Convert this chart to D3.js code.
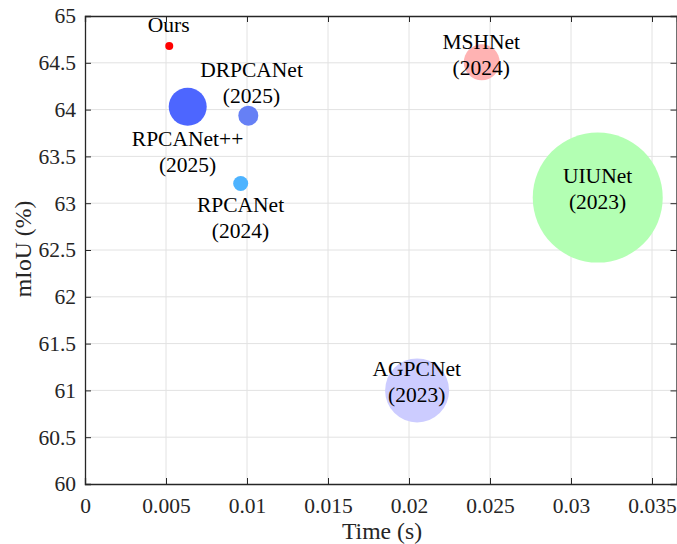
<!DOCTYPE html>
<html>
<head>
<meta charset="utf-8">
<script src="https://cdn.jsdelivr.net/npm/d3@7"></script>
<style>
  html, body { margin: 0; padding: 0; background: #fff; }
  svg { display: block; }
  text { font-family: "Liberation Serif", "Times New Roman", serif; }
</style>
</head>
<body>
<svg id="chart" width="677" height="544"></svg>
<script>
// Methods: inference time (s) vs mIoU (%), bubble radius in px
const names  = ["Ours", "RPCANet++", "DRPCANet", "RPCANet", "MSHNet", "UIUNet", "AGPCNet"];
const years  = ["", "(2025)", "(2025)", "(2024)", "(2024)", "(2023)", "(2023)"];
const times  = [0.0052, 0.00634, 0.01008, 0.00961, 0.02449, 0.03165, 0.0205];
const mious  = [64.68, 64.03, 63.935, 63.21, 64.505, 63.06, 61.0];
const sizes  = [4, 19, 10, 7.5, 18, 65, 32];
const colors = ["#ff0000", "#4d66ff", "#6680f5", "#4db3ff", "#ffb3b3", "#b3ffb3", "#ccccff"];
// label anchors (data units): centre time, first-line baseline mIoU
const labelX = [0.00517, 0.00633, 0.01028, 0.0096, 0.02446, 0.03164, 0.02048];
const labelY = [64.829, 63.611, 64.348, 62.906, 64.647, 63.216, 61.154];

const xTicks = [0, 0.005, 0.01, 0.015, 0.02, 0.025, 0.03, 0.035];
const yTicks = [60, 60.5, 61, 61.5, 62, 62.5, 63, 63.5, 64, 64.5, 65];

const W = 677, H = 544;
const svg = d3.select("#chart");

const x = d3.scaleLinear().domain([0, 0.036543]).range([85, W]);
const y = d3.scaleLinear().domain([60, 65]).range([484, 16]);

const FONT = "'Liberation Serif', 'Times New Roman', serif";

// grid
const grid = svg.append("g");
grid.selectAll(".gx").data(xTicks.slice(1)).join("line")
  .attr("x1", d => x(d)).attr("x2", d => x(d))
  .attr("y1", y(60)).attr("y2", y(65))
  .attr("stroke", "#e2e2e2").attr("stroke-width", 1);
grid.selectAll(".gy").data(yTicks.slice(1, -1)).join("line")
  .attr("x1", x(0)).attr("x2", W)
  .attr("y1", d => y(d)).attr("y2", d => y(d))
  .attr("stroke", "#e2e2e2").attr("stroke-width", 1);

// bubbles
svg.append("g").selectAll("circle").data(names).join("circle")
  .attr("cx", (d, i) => x(times[i]))
  .attr("cy", (d, i) => y(mious[i]))
  .attr("r", (d, i) => sizes[i])
  .attr("fill", (d, i) => colors[i]);

// box with axes
const fmt = d => d === 0 ? "0" : String(+d.toFixed(3));
const xAxis = d3.axisBottom(x).tickValues(xTicks).tickSize(-6).tickPadding(14).tickFormat(fmt);
const yAxis = d3.axisLeft(y).tickValues(yTicks).tickSize(-6).tickPadding(9).tickFormat(d => String(d));
const xTop = d3.axisTop(x).tickValues(xTicks).tickSize(-6).tickFormat("");
const yRight = d3.axisRight(y).tickValues(yTicks).tickSize(-6).tickFormat("");

function styleAxis(g) {
  g.attr("font-family", FONT).attr("font-size", 21.5);
  g.select(".domain").attr("stroke", "#262626").attr("stroke-width", 1.3);
  g.selectAll(".tick line").attr("stroke", "#262626").attr("stroke-width", 1);
  g.selectAll(".tick text").attr("fill", "#262626")
    .style("font-size", "21.5px").style("font-family", FONT);
}
svg.append("g").attr("transform", `translate(0,${y(60)})`).call(xAxis).call(styleAxis);
svg.append("g").attr("transform", `translate(${x(0)},0)`).call(yAxis).call(styleAxis);
svg.append("g").attr("transform", `translate(0,${y(65)})`).call(xTop).call(styleAxis);
svg.append("g").attr("transform", `translate(${W - 0.5},0)`).call(yRight).call(styleAxis);

// bubble labels
const lab = svg.append("g");
names.forEach((n, i) => {
  const t = lab.append("text")
    .attr("x", x(labelX[i])).attr("y", y(labelY[i]))
    .attr("text-anchor", "middle")
    .style("font-family", FONT).style("font-size", "21.5px").attr("fill", "#000");
  t.append("tspan").attr("x", x(labelX[i])).text(n);
  if (years[i]) t.append("tspan").attr("x", x(labelX[i])).attr("dy", 26).text(years[i]);
});

// axis titles
svg.append("text").attr("x", (x(0) + W) / 2 + 1).attr("y", 539)
  .attr("text-anchor", "middle").attr("fill", "#262626")
  .style("font-family", FONT).style("font-size", "23.7px").text("Time (s)");
svg.append("text").attr("transform", `translate(31,${(y(60) + y(65)) / 2 - 1}) rotate(-90)`)
  .attr("text-anchor", "middle").attr("fill", "#262626")
  .style("font-family", FONT).style("font-size", "23.7px").text("mIoU (%)");
</script>
</body>
</html>
